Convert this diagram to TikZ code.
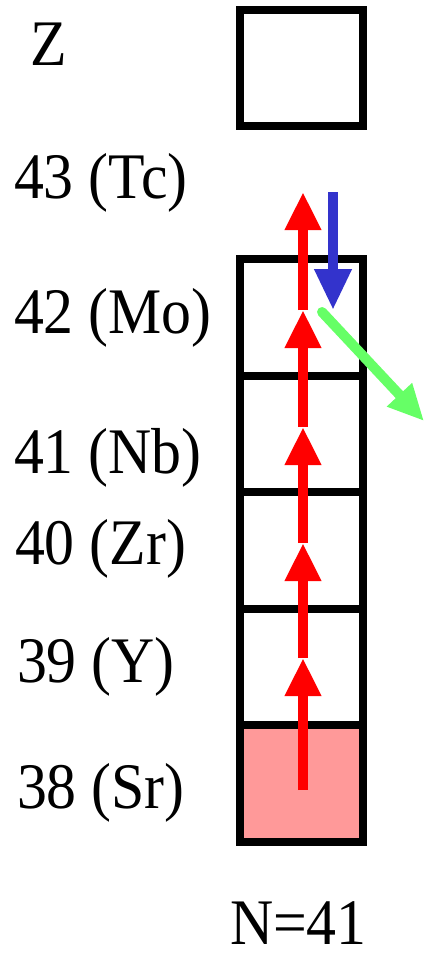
\documentclass[tikz,border=0pt]{standalone}
\usepackage{fontspec}
\setmainfont{Liberation Serif}
\usetikzlibrary{arrows.meta}
\definecolor{pinkfill}{HTML}{FF9999}
\definecolor{bluearrow}{HTML}{3333CC}
\definecolor{greenarrow}{HTML}{66FF66}
\newcommand\lbltext[1]{\scalebox{0.92}[1]{#1}}
\begin{document}
\begin{tikzpicture}[x=1pt,y=-1pt,
  cell/.style={draw=black,line width=8pt,minimum width=123pt,minimum height=116.5pt,inner sep=0pt,outer sep=0pt},
  lbl/.style={anchor=base west,inner sep=0pt,outer sep=0pt,font=\fontsize{65}{65}\selectfont},
  redarr/.style={draw=red,line width=10pt,-{Triangle[width=34pt,length=38pt]}},
  bluearr/.style={draw=bluearrow,line width=10pt,-{Triangle[width=35pt,length=41pt]}},
  greenarr/.style={draw=greenarrow,line width=10pt,line cap=round,-{Triangle[width=32pt,length=36pt]}}]
\useasboundingbox (0,0) rectangle (425,953);
% cells
\node[cell] (c43) at (301.5,68) {};
\node[cell] (c42) at (301.5,317.3) {};
\node[cell] (c41) at (301.5,433.9) {};
\node[cell] (c40) at (301.5,550.5) {};
\node[cell] (c39) at (301.5,667.1) {};
\node[cell,fill=pinkfill] (c38) at (301.5,783.7) {};
% labels
\node[lbl] (tz) at (30,65) {\lbltext{Z}};
\node[lbl] (t43) at (14,198) {\lbltext{43 (Tc)}};
\node[lbl] (t42) at (14,333) {\lbltext{42 (Mo)}};
\node[lbl] (t41) at (14,473) {\lbltext{41 (Nb)}};
\node[lbl] (t40) at (15,564) {\lbltext{40 (Zr)}};
\node[lbl] (t39) at (17,682) {\lbltext{39 (Y)}};
\node[lbl] (t38) at (17,808) {\lbltext{38 (Sr)}};
\node[lbl] (tn) at (230,944) {\lbltext{N=41}};
% red chain
\coordinate (r0) at (303,790);
\coordinate (r1) at (303,658);
\coordinate (r2) at (303,543);
\coordinate (r3) at (303,427);
\coordinate (r4) at (303,310);
\coordinate (r5) at (303,192);
\draw[redarr] (r0) -- (r1);
\draw[redarr] (r1) -- (r2);
\draw[redarr] (r2) -- (r3);
\draw[redarr] (r3) -- (r4);
\draw[redarr] (r4) -- (r5);
% blue
\coordinate (b0) at (333,192);
\coordinate (b1) at (333,310);
\draw[bluearr] (b0) -- (b1);
% green
\coordinate (g0) at (322,312);
\coordinate (g1) at (424,421);
\draw[greenarr] (g0) -- (g1);
\end{tikzpicture}
\end{document}
